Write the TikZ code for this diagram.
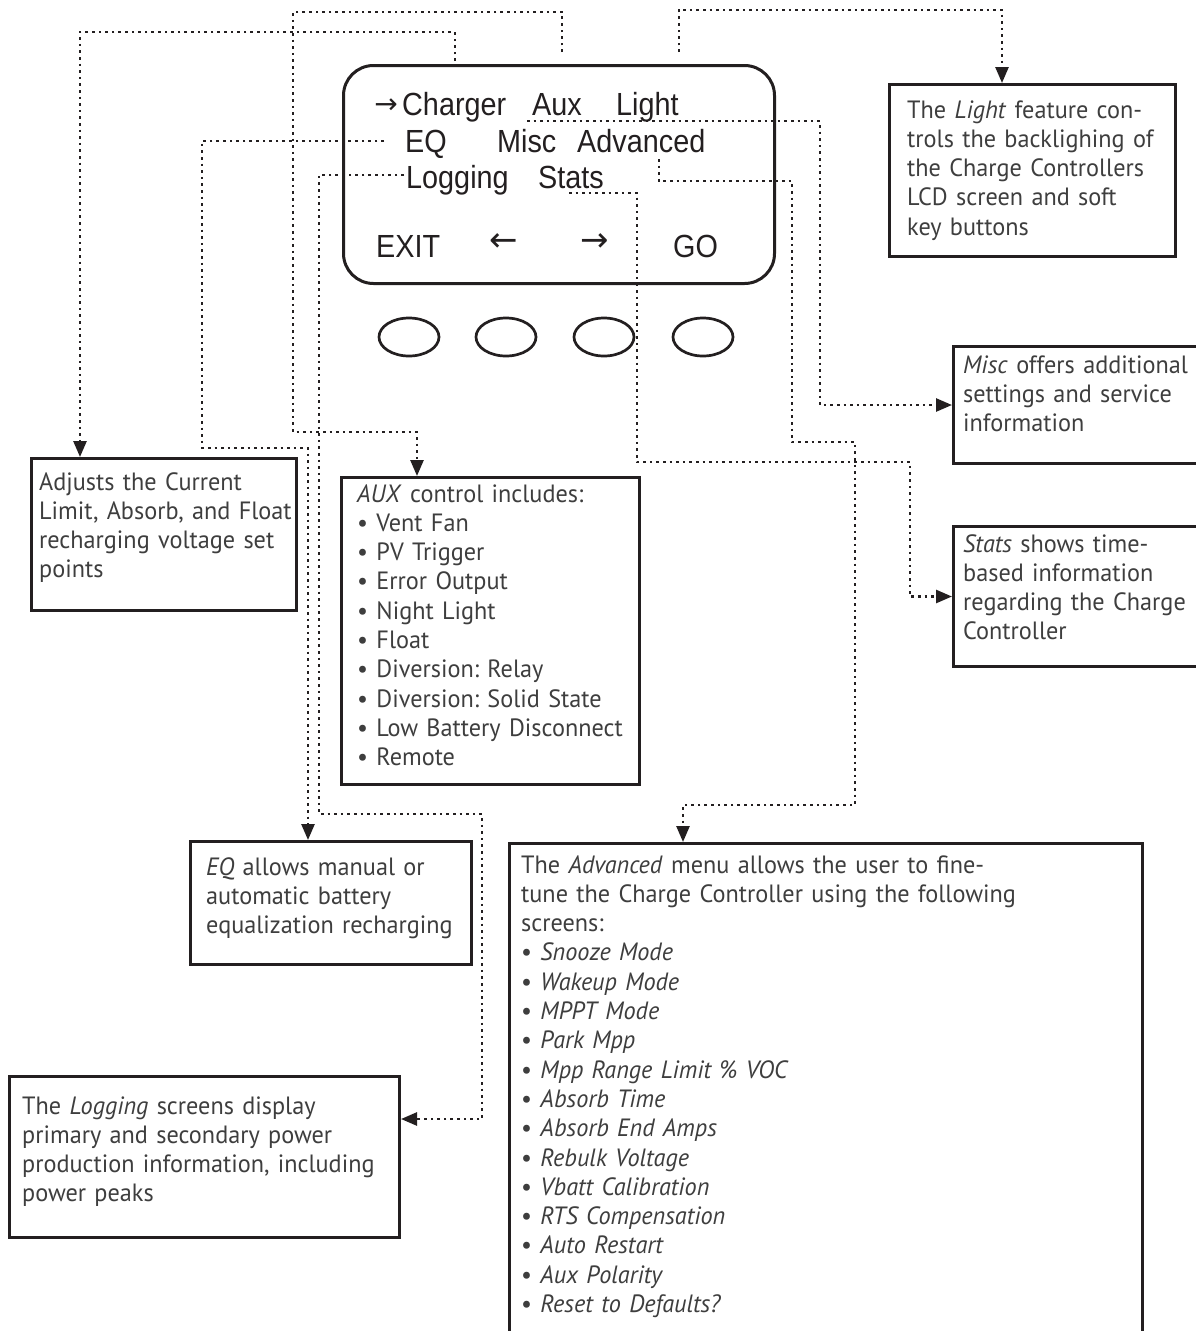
\documentclass[tikz,border=0pt]{standalone}
\usepackage{fontspec}
\usetikzlibrary{arrows.meta,shapes.geometric}
\newfontfamily\bodyfont[FakeStretch=0.97]{PT Sans}
\newfontfamily\lcdfont[FakeStretch=0.9]{Liberation Sans}
\newfontfamily\symfont{DejaVu Sans}
\definecolor{ink}{RGB}{35,31,32}
\definecolor{txt}{RGB}{62,62,62}
\begin{document}
\frenchspacing
\begin{tikzpicture}[x=1pt,y=-1pt,
  box/.style={draw=ink, line width=3pt, inner sep=0pt, anchor=north west},
  lcdword/.style={font=\lcdfont\fontsize{32}{36}\selectfont, text=ink, inner sep=0pt, anchor=base west},
  lcdarrow/.style={font=\symfont\fontsize{28}{30}\selectfont, text=ink, inner sep=0pt, anchor=center},
  body/.style={font=\bodyfont\fontsize{25}{29.3}\selectfont\frenchspacing, text=txt, inner sep=0pt, anchor=base west, text width=700pt, align=left},
  conn/.style={draw=ink, line width=2.6pt, dash pattern=on 2.6pt off 4pt, -{Triangle[length=16pt,width=13pt]}},
  btn/.style={draw=ink, line width=2.7pt, ellipse, minimum width=60pt, minimum height=38pt, inner sep=0pt}
]
\fill[white] (0,0) rectangle (1196,1331);
\useasboundingbox (0,0) rectangle (1196,1331);

% LCD panel
\node[draw=ink, line width=3pt, rounded corners=30pt, minimum width=431pt, minimum height=218pt, inner sep=0pt, anchor=north west] (lcd) at (342,64) {};
\node[lcdarrow] (wsel) at (386,106) {→};
\node[lcdword] (wcharger) at (402,115) {Charger};
\node[lcdword] (waux) at (532,115) {Aux};
\node[lcdword] (wlight) at (616,115) {Light};
\node[lcdword] (weq) at (405,152) {EQ};
\node[lcdword] (wmisc) at (497,152) {Misc};
\node[lcdword] (wadv) at (577,152) {Advanced};
\node[lcdword] (wlog) at (406,188) {Logging};
\node[lcdword] (wstats) at (538,188) {Stats};
\node[lcdword] (wexit) at (376,257) {EXIT};
\node[lcdarrow, font=\symfont\fontsize{34}{36}\selectfont] (wleft) at (504,243) {←};
\node[lcdarrow, font=\symfont\fontsize{34}{36}\selectfont] (wright) at (595,243) {→};
\node[lcdword] (wgo) at (673,257) {GO};

% buttons
\node[btn] (b1) at (409,337) {};
\node[btn] (b2) at (506,337) {};
\node[btn] (b3) at (604,337) {};
\node[btn] (b4) at (703,337) {};

% boxes
\node[box, minimum width=286pt, minimum height=172pt] (light) at (888,83) {};
\node[box, minimum width=245pt, minimum height=117pt] (misc) at (952,345) {};
\node[box, minimum width=245pt, minimum height=140pt] (stats) at (952,525) {};
\node[box, minimum width=265pt, minimum height=152pt] (adj) at (30,457) {};
\node[box, minimum width=298pt, minimum height=307pt] (aux) at (340,476) {};
\node[box, minimum width=281pt, minimum height=123pt] (eqb) at (189,840) {};
\node[box, minimum width=390pt, minimum height=161pt] (logb) at (8,1075) {};
\node[box, minimum width=633pt, minimum height=500pt] (adv) at (508,842) {};

% texts
\node[body] (tlight) at (907,118) {The \textit{Light} feature con-\\trols the backlighing of\\the Charge Controllers\\LCD screen and soft\\key buttons};
\node[body] (tmisc) at (963,373) {\textit{Misc} offers additional\\settings and service\\information};
\node[body] (tstats) at (963,552) {\textit{Stats} shows time-\\based information\\regarding the Charge\\Controller};
\node[body] (tadj) at (39,490) {Adjusts the Current\\Limit, Absorb, and Float\\recharging voltage set\\points};
\node[body] (taux) at (357,502) {\textit{AUX} control includes:\\• Vent Fan\\• PV Trigger\\• Error Output\\• Night Light\\• Float\\• Diversion: Relay\\• Diversion: Solid State\\• Low Battery Disconnect\\• Remote};
\node[body] (teq) at (206,875) {\textit{EQ} allows manual or\\automatic battery\\equalization recharging};
\node[body] (tlog) at (22,1114) {The \textit{Logging} screens display\\primary and secondary power\\production information, including\\power peaks};
\node[body] (tadv) at (521,873) {The \textit{Advanced} menu allows the user to fine-\\tune the Charge Controller using the following\\screens:\\• \textit{Snooze Mode}\\• \textit{Wakeup Mode}\\• \textit{MPPT Mode}\\• \textit{Park Mpp}\\• \textit{Mpp Range Limit \% VOC}\\• \textit{Absorb Time}\\• \textit{Absorb End Amps}\\• \textit{Rebulk Voltage}\\• \textit{Vbatt Calibration}\\• \textit{RTS Compensation}\\• \textit{Auto Restart}\\• \textit{Aux Polarity}\\• \textit{Reset to Defaults?}};

% connector start points
\coordinate (sA) at (455,61);
\coordinate (sB) at (562,52);
\coordinate (sC) at (679,52);
\coordinate (sD) at (527,121);
\coordinate (sE) at (659,159);
\coordinate (sF) at (569,193);
\coordinate (sG) at (384,141);
\coordinate (sH) at (404,175);

% connectors
\draw[conn] (sA) -- (455,32) -| ([xshift=50pt]adj.north west);
\draw[conn] (sB) -- (562,12) -- (293,12) -- (293,432) -| ([xshift=77pt]aux.north west);
\draw[conn] (sC) -- (679,10) -| ([xshift=114pt]light.north west);
\draw[conn] (sD) -- (820,121) |- (misc.west);
\draw[conn] (sE) -- (659,181) -- (792,181) -- (792,442) -- (855,442) -- (855,805) -| ([xshift=175pt]adv.north west);
\draw[conn] (sF) -- (637,193) -- (637,462) -- (910,462) |- (stats.west);
\draw[conn] (sG) -- (202,141) -- (202,448) -| ([xshift=119pt]eqb.north west);
\draw[conn] (sH) -- (319,175) -- (319,814) -- (482,814) |- ([yshift=-44pt]logb.north east);
\end{tikzpicture}
\end{document}
